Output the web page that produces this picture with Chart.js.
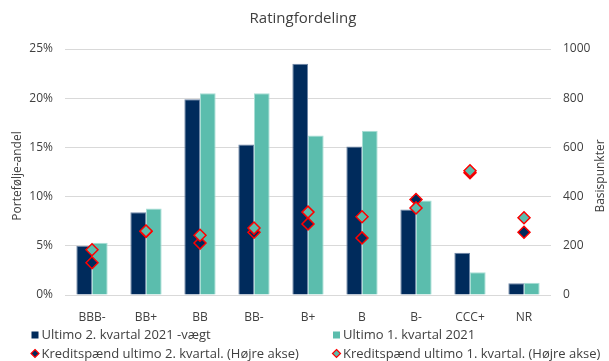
<!DOCTYPE html>
<html>
<head>
<meta charset="utf-8">
<script src="https://cdn.jsdelivr.net/npm/chart.js@4.4.1/dist/chart.umd.min.js"></script>
<style>
  html, body { margin: 0; padding: 0; background: #fff; }
  #wrap { width: 609px; height: 361px; position: relative; }
</style>
</head>
<body>
<div id="wrap"><canvas id="c" width="609" height="361"></canvas></div>
<script>
// Rating buckets
const categories = ['BBB-', 'BB+', 'BB', 'BB-', 'B+', 'B', 'B-', 'CCC+', 'NR'];
// Portfolio share, percent (left axis)
const shareQ2 = [5.0, 8.4, 19.9, 15.3, 23.5, 15.1, 8.7, 4.3, 1.2];
const shareQ1 = [5.3, 8.8, 20.5, 20.5, 16.2, 16.7, 9.6, 2.3, 1.25];
// Credit spread, basis points (right axis)
const spreadQ2 = [131, 258, 211, 255, 289, 232, 388, 497, 255];
const spreadQ1 = [184, 260, 243, 272, 337, 318, 354, 505, 314];
// Axis ticks
const leftTicks = [0, 5, 10, 15, 20, 25];
const rightTicks = [0, 200, 400, 600, 800, 1000];

const seriesNames = [
  'Ultimo 2. kvartal 2021 -vægt',
  'Ultimo 1. kvartal 2021',
  'Kreditspænd ultimo 2. kvartal. (Højre akse)',
  'Kreditspænd ultimo 1. kvartal. (Højre akse)'
];

const NAVY = '#002B5C';
const TEAL = '#5BBDAD';
const RED = '#FF0000';
const TEXT = '#404040';
const FONT = "'Open Sans', sans-serif";

function diamond(ctx, cx, cy, r, fill) {
  ctx.beginPath();
  ctx.moveTo(cx, cy - r);
  ctx.lineTo(cx + r, cy);
  ctx.lineTo(cx, cy + r);
  ctx.lineTo(cx - r, cy);
  ctx.closePath();
  ctx.fillStyle = fill;
  ctx.fill();
  ctx.strokeStyle = RED;
  ctx.lineWidth = 1.2;
  ctx.stroke();
}

// Title, axis titles and the two-column legend
const decor = {
  id: 'decor',
  afterDraw(chart) {
    const ctx = chart.ctx;
    const area = chart.chartArea;
    const midY = (area.top + area.bottom) / 2;
    ctx.save();
    ctx.fillStyle = TEXT;
    ctx.textBaseline = 'middle';
    ctx.textAlign = 'center';
    ctx.font = '15px ' + FONT;
    ctx.fillText('Ratingfordeling', 303, 19);

    ctx.font = '12px ' + FONT;
    [['Portefølje-andel', 18], ['Basispunkter', 601]].forEach(([t, x]) => {
      ctx.save();
      ctx.translate(x, midY + 4);
      ctx.rotate(-Math.PI / 2);
      ctx.fillText(t, 0, 0);
      ctx.restore();
    });

    ctx.font = '13px ' + FONT;
    ctx.textAlign = 'left';
    const items = [
      { x: 35, y: 335, kind: 'box', fill: NAVY },
      { x: 336.5, y: 335, kind: 'box', fill: TEAL },
      { x: 35, y: 353.5, kind: 'diamond', fill: NAVY },
      { x: 336.5, y: 353.5, kind: 'diamond', fill: TEAL }
    ];
    items.forEach((it, i) => {
      if (it.kind === 'box') {
        ctx.fillStyle = it.fill;
        ctx.fillRect(it.x - 3.5, it.y - 3.5, 7, 7);
      } else {
        diamond(ctx, it.x, it.y, 4, it.fill);
      }
      ctx.fillStyle = TEXT;
      ctx.fillText(seriesNames[i], it.x + 6.5, it.y + 0.5);
    });
    ctx.restore();
  }
};

new Chart(document.getElementById('c'), {
  data: {
    labels: categories,
    datasets: [
      {
        type: 'line', label: seriesNames[2], data: spreadQ2, yAxisID: 'y2',
        showLine: false, pointStyle: 'rectRot', pointRadius: 6, pointHoverRadius: 6,
        pointBackgroundColor: NAVY, pointBorderColor: RED, pointBorderWidth: 1.5, order: 1
      },
      {
        type: 'line', label: seriesNames[3], data: spreadQ1, yAxisID: 'y2',
        showLine: false, pointStyle: 'rectRot', pointRadius: 6, pointHoverRadius: 6,
        pointBackgroundColor: TEAL, pointBorderColor: RED, pointBorderWidth: 1.5, order: 0
      },
      {
        type: 'bar', label: seriesNames[0], data: shareQ2, yAxisID: 'y',
        backgroundColor: NAVY, borderColor: '#6E86A6', borderWidth: 1, order: 2,
        barPercentage: 1, categoryPercentage: 0.58
      },
      {
        type: 'bar', label: seriesNames[1], data: shareQ1, yAxisID: 'y',
        backgroundColor: TEAL, borderColor: '#A8DED5', borderWidth: 1, order: 2,
        barPercentage: 1, categoryPercentage: 0.58
      }
    ]
  },
  options: {
    responsive: false,
    animation: false,
    events: [],
    layout: { padding: { top: 49, left: 0, right: 0, bottom: 0 } },
    plugins: { legend: { display: false }, title: { display: false }, tooltip: { enabled: false } },
    scales: {
      x: {
        grid: { display: false },
        border: { display: false },
        ticks: { color: TEXT, font: { family: FONT, size: 12 }, padding: 7, maxRotation: 0 },
        afterFit(s) { s.height = 66; }
      },
      y: {
        position: 'left',
        min: 0, max: 25,
        afterBuildTicks(s) { s.ticks = leftTicks.map(v => ({ value: v })); },
        ticks: { color: TEXT, font: { family: FONT, size: 12 }, padding: 12, callback: v => v + '%' },
        grid: { color: '#D9D9D9', lineWidth: 1, drawTicks: false },
        border: { display: false },
        afterFit(s) { s.width = 65; }
      },
      y2: {
        position: 'right',
        min: 0, max: 1000,
        afterBuildTicks(s) { s.ticks = rightTicks.map(v => ({ value: v })); },
        ticks: { color: TEXT, font: { family: FONT, size: 12 }, padding: 12, callback: v => String(v) },
        grid: { display: false, drawTicks: false },
        border: { display: false },
        afterFit(s) { s.width = 58; }
      }
    }
  },
  plugins: [decor]
});
</script>
</body>
</html>
